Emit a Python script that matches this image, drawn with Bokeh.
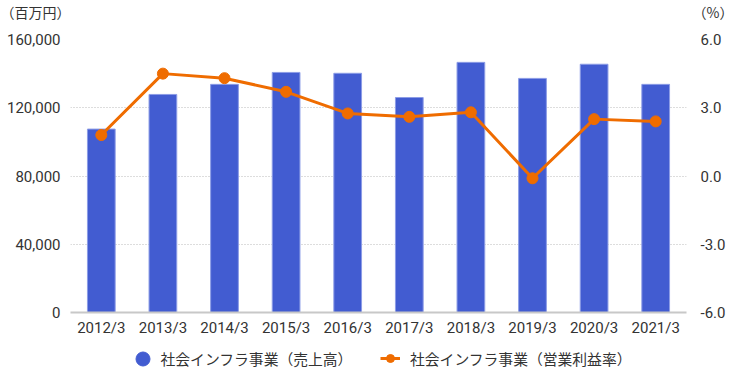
from bokeh.plotting import figure
from bokeh.layouts import column
from bokeh.models import (ColumnDataSource, FactorRange, Range1d, LinearAxis,
                          FixedTicker, Legend, LegendItem, NumeralTickFormatter)
from bokeh.core.properties import value
from bokeh.embed import file_html
from bokeh.resources import INLINE

years = ["2012/3", "2013/3", "2014/3", "2015/3", "2016/3",
         "2017/3", "2018/3", "2019/3", "2020/3", "2021/3"]
sales = [107500, 127800, 133700, 140700, 140200,
         126000, 146600, 137200, 145500, 133700]
margin = [1.8, 4.5, 4.3, 3.7, 2.75, 2.6, 2.8, -0.1, 2.5, 2.4]
left_ticks = [0, 40000, 80000, 120000, 160000]
right_ticks = [-6, -3, 0, 3, 6]
unit_left = "（百万円）"
unit_right = "（%）"
name_sales = "社会インフラ事業（売上高）"
name_margin = "社会インフラ事業（営業利益率）"

BLUE = "#425CD1"
ORANGE = "#EF6C00"
TXT = "#333333"
FONT = "Roboto"
JFONT = "Noto Sans CJK JP"
W = 736
HH, MH, FH = 30, 310, 40


def bare(fig):
    fig.outline_line_color = None
    fig.xaxis.visible = False
    fig.yaxis.visible = False
    fig.xgrid.visible = False
    fig.ygrid.visible = False
    fig.frame_align = False


def axis_style(ax, standoff):
    ax.axis_line_color = None
    ax.major_tick_line_color = None
    ax.minor_tick_line_color = None
    ax.major_tick_out = 0
    ax.major_tick_in = 0
    ax.minor_tick_out = 0
    ax.minor_tick_in = 0
    ax.major_label_standoff = standoff
    ax.major_label_text_font = FONT
    ax.major_label_text_font_size = "15px"
    ax.major_label_text_color = TXT


# ---------- header with unit labels ----------
hdr = figure(width=W, height=HH, x_range=Range1d(0, W), y_range=Range1d(0, HH),
             output_backend="svg", toolbar_location=None,
             min_border=0, min_border_left=0, min_border_right=0,
             min_border_top=0, min_border_bottom=0)
bare(hdr)
hdr.text(x=[0], y=[HH - 11], text=[unit_left], text_font=value(JFONT),
         text_font_size="14px", text_color=TXT, text_baseline="middle",
         text_align="left")
hdr.text(x=[W - 3], y=[HH - 11], text=[unit_right], text_font=value(JFONT),
         text_font_size="14px", text_color=TXT, text_baseline="middle",
         text_align="right")

# ---------- main chart ----------
src = ColumnDataSource(dict(x=years, sales=sales, margin=margin))

p = figure(x_range=FactorRange(*years, range_padding=0.0),
           y_range=Range1d(0, 160000),
           width=W, height=MH, output_backend="svg", toolbar_location=None,
           min_border_left=70, min_border_right=50, min_border_top=9,
           min_border_bottom=28)
p.outline_line_color = None
p.frame_align = False
p.extra_y_ranges = {"pct": Range1d(-6, 6)}

p.vbar(x="x", top="sales", width=0.45, source=src,
       fill_color=BLUE, line_color="#8C9CE6", line_width=1)
p.line(x="x", y="margin", source=src, y_range_name="pct",
       line_color=ORANGE, line_width=3)
p.scatter(x="x", y="margin", source=src, y_range_name="pct",
          size=11, fill_color=ORANGE, line_color=ORANGE)

ya = p.yaxis[0]
ya.ticker = FixedTicker(ticks=left_ticks)
ya.formatter = NumeralTickFormatter(format="0,0")
axis_style(ya, 10)

ra = LinearAxis(y_range_name="pct", ticker=FixedTicker(ticks=right_ticks),
                formatter=NumeralTickFormatter(format="0.0"))
axis_style(ra, 14)
p.add_layout(ra, "right")

xa = p.xaxis[0]
axis_style(xa, 6)
xa.axis_line_color = "#C8C8C8"
xa.axis_line_width = 2

p.xgrid.grid_line_color = None
p.ygrid.ticker = FixedTicker(ticks=left_ticks)
p.ygrid.grid_line_color = "#BBBBBB"
p.ygrid.grid_line_dash = "1 2"
p.ygrid.grid_line_width = 1

# ---------- footer with legend ----------
ftr = figure(width=W, height=FH, x_range=Range1d(0, W), y_range=Range1d(0, FH),
             output_backend="svg", toolbar_location=None,
             min_border=0, min_border_left=0, min_border_right=0,
             min_border_top=0, min_border_bottom=0)
bare(ftr)
d1 = ftr.scatter(x=[-50], y=[-50], marker="circle", fill_color=BLUE, line_color=BLUE)
d2 = ftr.line(x=[-60, -50], y=[-50, -50], line_color=ORANGE, line_width=3)
d3 = ftr.scatter(x=[-50], y=[-50], marker="circle", fill_color=ORANGE, line_color=ORANGE)

leg1 = Legend(items=[LegendItem(label=name_sales, renderers=[d1])],
              location=(124.5, 4.5), orientation="horizontal",
              glyph_width=35, glyph_height=35, label_standoff=1, padding=0,
              margin=0, border_line_color=None, background_fill_alpha=0,
              label_text_font=JFONT, label_text_font_size="14.8px",
              label_text_color=TXT)
leg2 = Legend(items=[LegendItem(label=name_margin, renderers=[d2, d3])],
              location=(380, 10), orientation="horizontal",
              glyph_width=20, glyph_height=24, label_standoff=10, padding=0,
              margin=0, border_line_color=None, background_fill_alpha=0,
              label_text_font=JFONT, label_text_font_size="14.8px",
              label_text_color=TXT)
ftr.add_layout(leg1, "center")
ftr.add_layout(leg2, "center")

layout = column(hdr, p, ftr, spacing=0)
open("out.html", "w").write(file_html(layout, INLINE))
